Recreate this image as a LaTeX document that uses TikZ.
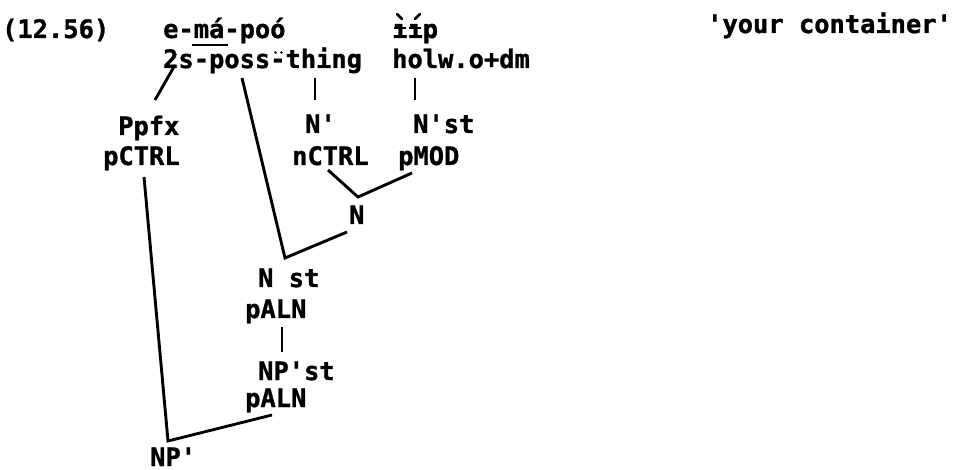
\documentclass[tikz,border=0pt]{standalone}
\usepackage{fontspec}
\newfontfamily\tw{DejaVu Sans Mono}[BoldFeatures={FakeBold=1.2}]
\begin{document}
\begin{tikzpicture}[x=1pt,y=-1pt,
  lbl/.style={anchor=base west,inner sep=0pt,font=\tw\bfseries\fontsize{25.4}{30}\selectfont},
  edge/.style={line width=2.9pt,line join=miter},
  mark stroke/.style={line width=2.6pt,line cap=round}]
\useasboundingbox (0,0) rectangle (953,470);
% texts
\node[lbl] (num) at (2,38) {(12.56)};
\node[lbl] (w1) at (163,38) {e-má-poó};
\node[lbl] (g1) at (163,68) {2s-poss-thing};
\node[lbl] (w2) at (392,38) {ııp};
\node[lbl] (g2) at (392,68) {holw.o+dm};
\node[lbl] (tr) at (707,33) {'your container'};
\node[lbl] (ppfx) at (118,135) {Ppfx};
\node[lbl] (pctrl) at (103,165) {pCTRL};
\node[lbl] (nbar) at (305,133) {N'};
\node[lbl] (nctrl) at (292,165) {nCTRL};
\node[lbl] (nbarst) at (413,133) {N'st};
\node[lbl] (pmod) at (398,165) {pMOD};
\node[lbl] (n) at (349,224) {N};
\node[lbl] (nst) at (258,287) {N st};
\node[lbl] (paln1) at (245,318) {pALN};
\node[lbl] (npst) at (258,380) {NP'st};
\node[lbl] (paln2) at (245,407) {pALN};
\node[lbl] (np) at (150,466) {NP'};
% diacritics drawn by hand
\draw[line width=2.2pt] (192,45) -- (228,45);
\draw[line width=2.2pt] (394,28) -- (406,28) (409,28) -- (421,28);
\draw[mark stroke] (397,14) -- (402,19);
\draw[mark stroke] (415,19) -- (420,14);
\fill (275.5,52.5) circle (1.4pt) (281.5,52.5) circle (1.4pt);
% connector end points
\coordinate (a1) at (175,65);  \coordinate (a2) at (155,100);
\coordinate (b1) at (242,78);  \coordinate (b2) at (285,258); \coordinate (b3) at (347,232);
\coordinate (c1) at (315,78);  \coordinate (c2) at (315,100);
\coordinate (d1) at (415,78);  \coordinate (d2) at (415,100);
\coordinate (e1) at (328,170); \coordinate (e2) at (358,197); \coordinate (e3) at (412,173);
\coordinate (f1) at (144,177); \coordinate (f2) at (168,441); \coordinate (f3) at (272,415);
\coordinate (h1) at (282,327); \coordinate (h2) at (282,352);
% connectors
\draw[edge] (a1) -- (a2);
\draw[edge] (b1) -- (b2) -- (b3);
\draw[edge] (c1) -- (c2);
\draw[edge] (d1) -- (d2);
\draw[edge] (e1) -- (e2) -- (e3);
\draw[edge] (f1) -- (f2) -- (f3);
\draw[edge] (h1) -- (h2);
\end{tikzpicture}
\end{document}
